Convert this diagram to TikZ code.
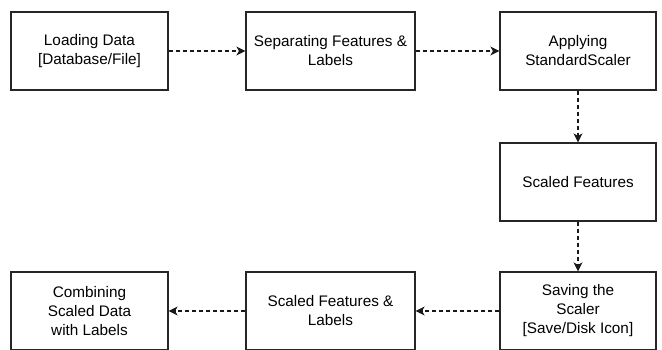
\documentclass[tikz,border=0pt]{standalone}
\usepackage{fontspec}
\setmainfont{Liberation Sans}
\usetikzlibrary{arrows.meta}
\begin{document}
\begin{tikzpicture}[x=1pt,y=-1pt,
  box/.style={draw=black!85, line width=1.2pt, minimum height=78pt, inner sep=0pt, align=center, font=\fontsize{15.3}{19}\selectfont},
  flow/.style={draw=black!90, line width=1.2pt, dash pattern=on 4pt off 3pt, -{Stealth[length=9pt,width=9pt,inset=2.5pt]}}]
\useasboundingbox (0,0) rectangle (662,350);
\node[box, minimum width=157pt] (load) at (89.5,51) {Loading Data\\{[Database/File]}};
\node[box, minimum width=169pt] (sep) at (330.5,51) {Separating Features \&\\Labels};
\node[box, minimum width=156pt] (apply) at (578,51) {Applying\\StandardScaler};
\node[box, minimum width=156pt] (scaled) at (578,182) {Scaled Features};
\node[box, minimum width=156pt] (save) at (578,311) {Saving the\\Scaler\\{[Save/Disk Icon]}};
\node[box, minimum width=169pt] (sfl) at (330.5,311) {Scaled Features \&\\Labels};
\node[box, minimum width=157pt] (comb) at (89.5,311) {Combining\\Scaled Data\\with Labels};
\draw[flow] (load) -- (sep);
\draw[flow] (sep) -- (apply);
\draw[flow] (apply) -- (scaled);
\draw[flow] (scaled) -- (save);
\draw[flow] (save) -- (sfl);
\draw[flow] (sfl) -- (comb);
\end{tikzpicture}
\end{document}
